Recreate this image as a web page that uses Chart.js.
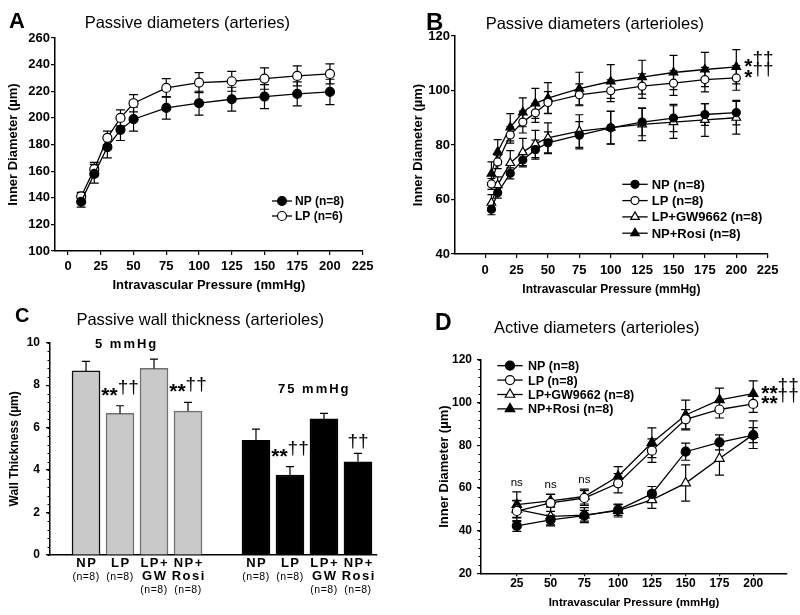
<!DOCTYPE html>
<html>
<head>
<meta charset="utf-8">
<script src="https://cdn.jsdelivr.net/npm/chart.js@4.4.1/dist/chart.umd.min.js"></script>
<style>
  body { margin: 0; width: 800px; height: 615px; position: relative; overflow: hidden; background: #fff; }
  canvas { position: absolute; }
  .txt { position: absolute; white-space: nowrap; line-height: 1; color: #000; font-family: "Liberation Sans", Arial, sans-serif; }
</style>
</head>
<body>
<canvas id="chartA" width="400" height="300" style="left:0;top:0"></canvas>
<canvas id="chartB" width="400" height="300" style="left:400px;top:0"></canvas>
<canvas id="chartC" width="400" height="315" style="left:0;top:300px"></canvas>
<canvas id="chartD" width="400" height="315" style="left:400px;top:300px"></canvas>

<div class="txt" style="left:9px;top:10.4px;font-size:22px;font-weight:bold">A</div>
<div class="txt" style="left:84.7px;top:14.3px;font-size:16.5px">Passive diameters (arteries)</div>
<div class="txt" style="left:426px;top:9.7px;font-size:24px;font-weight:bold">B</div>
<div class="txt" style="left:485.7px;top:15.3px;font-size:16.5px">Passive diameters (arterioles)</div>
<div class="txt" style="left:15px;top:304.8px;font-size:20px;font-weight:bold">C</div>
<div class="txt" style="left:76.4px;top:311px;font-size:16.5px">Passive wall thickness (arterioles)</div>
<div class="txt" style="left:95px;top:337.3px;font-size:13px;font-weight:bold;letter-spacing:2px">5 mmHg</div>
<div class="txt" style="left:278px;top:382.3px;font-size:13px;font-weight:bold;letter-spacing:2px">75 mmHg</div>
<div class="txt" style="left:435px;top:310.5px;font-size:23px;font-weight:bold">D</div>
<div class="txt" style="left:494px;top:319px;font-size:16.5px">Active diameters (arterioles)</div>

<script>
// A: passive diameters, arteries
const aPressure = [10, 20, 30, 40, 50, 75, 100, 125, 150, 175, 200];
const aNP = [137, 158, 178, 191, 199, 207.5, 211, 214, 216, 218, 219.5];
const aNPErr = [4, 7, 8, 8, 9, 8.5, 9, 9, 9, 9, 9.5];
const aLP = [141, 161.5, 185, 200, 211, 222.5, 226.5, 227.5, 229.5, 231.5, 233];
const aLPErr = [3, 5, 5, 6, 6.5, 7, 7.5, 7.5, 8, 7.5, 7.5];
const aXTicks = [0, 25, 50, 75, 100, 125, 150, 175, 200, 225];
const aYTicks = [100, 120, 140, 160, 180, 200, 220, 240, 260];

// B: passive diameters, arterioles
const bPressure = [5, 10, 20, 30, 40, 50, 75, 100, 125, 150, 175, 200];
const bNP = [56.4, 62.5, 69.6, 74.5, 78.3, 80.8, 83.6, 86.3, 88.4, 89.9, 91.2, 91.9];
const bNPErr = [2, 2, 2, 2.5, 3.5, 4, 5, 6, 5, 5, 4, 4.5];
const bLP = [65.7, 73.8, 83.7, 88.4, 91.8, 95.6, 98.4, 99.9, 101.6, 102.7, 104, 104.6];
const bLPErr = [2, 2.5, 3, 4, 3.5, 4, 4, 4, 4.5, 4.5, 4.5, 4.5];
const bGW = [58.8, 65.3, 73.4, 77.4, 80.4, 82.6, 85.1, 86.4, 87.6, 88.4, 89.2, 90];
const bGWErr = [3, 3, 4.5, 5, 5, 5.5, 6, 6, 6, 6, 6, 6];
const bRosi = [69.5, 77.5, 86.5, 92, 95.3, 97.2, 100.7, 103.3, 104.9, 106.6, 107.7, 108.7];
const bRosiErr = [4.3, 4.5, 5, 5.3, 5.5, 5.7, 6, 6.2, 6.2, 6.3, 6.3, 6.3];
const bXTicks = [0, 25, 50, 75, 100, 125, 150, 175, 200, 225];
const bYTicks = [40, 60, 80, 100, 120];

// C: passive wall thickness, arterioles
const cGroups = ['NP', 'LP', 'LP+\nGW', 'NP+\nRosi'];
const cCounts = ['(n=8)', '(n=8)', '(n=8)', '(n=8)'];
const c5mmHg = [8.67, 6.67, 8.79, 6.78];
const c5mmHgErr = [0.45, 0.36, 0.44, 0.41];
const c5mmHgSig = ['', '**††', '', '**††'];
const c75mmHg = [5.40, 3.77, 6.41, 4.39];
const c75mmHgErr = [0.53, 0.39, 0.26, 0.40];
const c75mmHgSig = ['', '**††', '', '††'];
const cYTicks = [0, 2, 4, 6, 8, 10];

// D: active diameters, arterioles
const dPressure = [25, 50, 75, 100, 125, 150, 175, 200];
const dNP = [42.2, 45, 47, 49.7, 57.2, 77, 81.4, 84.8];
const dNPErr = [2.5, 2.3, 2.5, 2.5, 3.5, 4, 3.5, 3.5];
const dLP = [49.2, 53, 55.3, 62.2, 77.5, 92.2, 96.8, 99.4];
const dLPErr = [5, 4, 3.5, 4.5, 5.5, 4.5, 4, 4];
const dGW = [50, 46.7, 47.3, 49.4, 54.4, 62.3, 73.8, 85];
const dGWErr = [4, 4.5, 3.5, 3, 4, 8.5, 7.8, 6.5];
const dRosi = [52.2, 54, 56, 65.5, 81.2, 94.2, 101.3, 104.2];
const dRosiErr = [6, 3, 3.5, 4.5, 7, 7, 5.5, 6];
const dNs = ['ns', 'ns', 'ns', '', '', '', '', ''];
const dXTicks = [25, 50, 75, 100, 125, 150, 175, 200];
const dYTicks = [20, 40, 60, 80, 100, 120];

const FONT = '"Liberation Sans", Arial, sans-serif';
Chart.defaults.font.family = FONT;
Chart.defaults.color = '#000';
Chart.defaults.animation = false;
Chart.defaults.plugins.legend.display = false;
Chart.defaults.plugins.tooltip.enabled = false;

const markers = {
  NP: { shape: 'circle', fill: '#000' },
  LP: { shape: 'circle', fill: '#fff' },
  GW: { shape: 'triangle', fill: '#fff' },
  Rosi: { shape: 'triangle', fill: '#000' }
};

function lineSet(label, xs, ys, errs, mk, radius, sig) {
  return {
    label,
    data: xs.map((x, i) => ({ x, y: ys[i] })),
    errors: errs,
    sig,
    borderColor: '#000',
    borderWidth: 1.3,
    pointStyle: mk.shape,
    pointRadius: mk.shape === 'triangle' ? radius + 1 : radius,
    pointBackgroundColor: mk.fill,
    pointBorderColor: '#000',
    pointBorderWidth: 1.2,
    tension: 0,
    fill: false
  };
}

function axis(o) {
  return {
    type: 'linear',
    min: o.min,
    max: o.max,
    offset: false,
    afterBuildTicks: s => { s.ticks = (o.ticks || []).map(v => ({ value: v })); },
    afterFit: s => {
      if (o.width) s.width = o.width;
      if (o.height) s.height = o.height;
    },
    grid: { display: o.grid !== false, drawOnChartArea: false, color: '#000', lineWidth: 1.2, tickLength: o.tickLen || 4 },
    border: { display: true, color: '#000', width: 1.5 },
    ticks: { display: o.tickSize > 0, font: { size: o.tickSize, weight: 'bold' }, padding: o.tickPad, color: '#000' },
    title: {
      display: !!o.title, text: o.title, color: '#000',
      font: { size: o.titleSize, weight: 'bold' },
      padding: o.titlePad
    }
  };
}

function drawMarker(ctx, shape, x, y, r, fill) {
  ctx.beginPath();
  if (shape === 'triangle') {
    let a = 0;
    ctx.moveTo(x + Math.sin(a) * r, y - Math.cos(a) * r);
    a += Math.PI * 2 / 3;
    ctx.lineTo(x + Math.sin(a) * r, y - Math.cos(a) * r);
    a += Math.PI * 2 / 3;
    ctx.lineTo(x + Math.sin(a) * r, y - Math.cos(a) * r);
    ctx.closePath();
  } else {
    ctx.arc(x, y, r, 0, Math.PI * 2);
  }
  ctx.fillStyle = fill;
  ctx.fill();
  ctx.stroke();
}

// stars in bold, daggers raised after them
function drawSig(ctx, text, x, base, centered) {
  const stars = text.replace(/†/g, '');
  const daggers = text.replace(/\*/g, '');
  const starFont = 'bold 21px ' + FONT;
  const dagFont = '19px ' + FONT;
  ctx.font = starFont;
  const ws = ctx.measureText(stars).width;
  ctx.font = dagFont;
  const wd = ctx.measureText(daggers).width;
  const start = centered ? x - (ws + wd) / 2 : x;
  ctx.fillStyle = '#000';
  ctx.textAlign = 'left';
  ctx.textBaseline = 'alphabetic';
  ctx.font = starFont;
  ctx.fillText(stars, start, base);
  ctx.font = dagFont;
  ctx.fillText(daggers, start + ws, base - (stars ? 8.5 : 2));
}

const errorBars = {
  id: 'errorBars',
  beforeDatasetsDraw(chart, args, o) { if (!o.upOnly) paintErrors(chart, o); },
  afterDatasetsDraw(chart, args, o) { if (o.upOnly) paintErrors(chart, o); }
};

function paintErrors(chart, o) {
  const ctx = chart.ctx;
  const ys = chart.scales.y;
  ctx.save();
  ctx.strokeStyle = '#000';
  ctx.lineWidth = 1.2;
  chart.data.datasets.forEach((ds, di) => {
    if (!ds.errors) return;
    chart.getDatasetMeta(di).data.forEach((el, i) => {
      const v = ds.data[i].y, e = ds.errors[i];
      const top = ys.getPixelForValue(v + e);
      const bot = ys.getPixelForValue(o.upOnly ? v : v - e);
      ctx.beginPath();
      ctx.moveTo(el.x, top); ctx.lineTo(el.x, bot);
      ctx.moveTo(el.x - o.cap, top); ctx.lineTo(el.x + o.cap, top);
      if (!o.upOnly) { ctx.moveTo(el.x - o.cap, bot); ctx.lineTo(el.x + o.cap, bot); }
      ctx.stroke();
    });
  });
  ctx.restore();
}

const markerLegend = {
  id: 'markerLegend',
  afterDraw(chart, args, o) {
    if (!o.rowH) return;
    const ctx = chart.ctx;
    chart.data.datasets.forEach((ds, i) => {
      const y = o.y + i * o.rowH;
      ctx.save();
      ctx.strokeStyle = '#000';
      ctx.lineWidth = 1.3;
      ctx.beginPath(); ctx.moveTo(o.x - o.half, y); ctx.lineTo(o.x + o.half, y); ctx.stroke();
      ctx.lineWidth = 1.2;
      drawMarker(ctx, ds.pointStyle, o.x, y, ds.pointRadius, ds.pointBackgroundColor);
      ctx.fillStyle = '#000';
      ctx.font = 'bold ' + o.size + 'px ' + FONT;
      ctx.textBaseline = 'middle';
      ctx.textAlign = 'left';
      ctx.fillText(ds.label, o.x + o.gap, y + 1);
      ctx.restore();
    });
  }
};

const sigMarks = {
  id: 'sigMarks',
  afterDatasetsDraw(chart) {
    const ctx = chart.ctx;
    const ys = chart.scales.y;
    ctx.save();
    chart.data.datasets.forEach((ds, di) => {
      const pts = chart.getDatasetMeta(di).data;
      if (ds.sig) {
        const last = pts[pts.length - 1];
        drawSig(ctx, ds.sig, last.x + 8, last.y + 6, false);
      }
      if (ds.sigs) {
        pts.forEach((el, i) => {
          if (!ds.sigs[i]) return;
          const top = ys.getPixelForValue(ds.data[i].y + ds.errors[i]);
          drawSig(ctx, ds.sigs[i], el.x, top - 4, true);
        });
      }
    });
    ctx.restore();
  }
};

const minorTicks = {
  id: 'minorTicks',
  afterDraw(chart, args, o) {
    if (!o.step) return;
    const ys = chart.scales.y, ctx = chart.ctx;
    ctx.save();
    ctx.strokeStyle = '#000';
    ctx.lineWidth = 1;
    for (let v = ys.min; v <= ys.max + 1e-9; v += o.step) {
      const y = Math.round(ys.getPixelForValue(v)) + 0.5;
      ctx.beginPath(); ctx.moveTo(ys.right - 2.5, y); ctx.lineTo(ys.right, y); ctx.stroke();
    }
    ctx.restore();
  }
};

Chart.register(errorBars, markerLegend, sigMarks, minorTicks);

// ---------- A ----------
new Chart(document.getElementById('chartA'), {
  type: 'line',
  data: {
    datasets: [
      lineSet('NP (n=8)', aPressure, aNP, aNPErr, markers.NP, 4.5),
      lineSet('LP (n=6)', aPressure, aLP, aLPErr, markers.LP, 4.5)
    ]
  },
  options: {
    responsive: false,
    layout: { padding: { top: 38, right: 37.3, left: 0, bottom: 0 } },
    scales: {
      x: axis({ min: -10, max: 225, ticks: aXTicks, height: 49, tickSize: 13, tickPad: 4,
        title: 'Intravascular Pressure (mmHg)', titleSize: 13, titlePad: { top: 0, bottom: 7 } }),
      y: axis({ min: 100, max: 260, ticks: aYTicks, width: 55, tickSize: 13, tickPad: 1,
        title: 'Inner Diameter (µm)', titleSize: 13, titlePad: { top: 6, bottom: 0 } })
    },
    plugins: {
      errorBars: { cap: 4.5 },
      markerLegend: { x: 282, y: 201, rowH: 15, half: 10, gap: 13, size: 12 }
    }
  }
});

// ---------- B ----------
new Chart(document.getElementById('chartB'), {
  type: 'line',
  data: {
    datasets: [
      lineSet('NP (n=8)', bPressure, bNP, bNPErr, markers.NP, 4),
      lineSet('LP (n=8)', bPressure, bLP, bLPErr, markers.LP, 4, '*††'),
      lineSet('LP+GW9662 (n=8)', bPressure, bGW, bGWErr, markers.GW, 4),
      lineSet('NP+Rosi (n=8)', bPressure, bRosi, bRosiErr, markers.Rosi, 4, '*††')
    ]
  },
  options: {
    responsive: false,
    layout: { padding: { top: 36, right: 32.3, left: 0, bottom: 0 } },
    scales: {
      x: axis({ min: -24, max: 225, ticks: bXTicks, height: 46, tickSize: 13, tickPad: 5,
        title: 'Intravascular Pressure (mmHg)', titleSize: 12, titlePad: { top: 0, bottom: 3 } }),
      y: axis({ min: 40, max: 120, ticks: bYTicks, width: 55, tickSize: 13, tickPad: 1,
        title: 'Inner Diameter (µm)', titleSize: 13, titlePad: { top: 11, bottom: 0 } })
    },
    plugins: {
      errorBars: { cap: 4 },
      markerLegend: { x: 235, y: 184.3, rowH: 16.3, half: 12.7, gap: 16.7, size: 13 }
    }
  }
});

// ---------- C ----------
const cX = [...c5mmHg.map((_, i) => i), ...c75mmHg.map((_, i) => i + cGroups.length + 1)];
const cValues = c5mmHg.concat(c75mmHg);
const cLabels = cGroups.concat(cGroups);
const cNs = cCounts.concat(cCounts);

const cLabelPlugin = {
  id: 'cLabels',
  afterDraw(chart) {
    const ctx = chart.ctx, xs = chart.scales.x;
    const base = chart.chartArea.bottom + 11.7;
    ctx.save();
    ctx.fillStyle = '#000';
    ctx.textAlign = 'center';
    ctx.textBaseline = 'alphabetic';
    cX.forEach((xv, i) => {
      const x = xs.getPixelForValue(xv);
      const lines = cLabels[i].split('\n');
      ctx.font = 'bold 13px ' + FONT;
      ctx.letterSpacing = '1.5px';
      lines.forEach((t, k) => ctx.fillText(t, x + 0.75, base + k * 13.3));
      ctx.font = '10.5px ' + FONT;
      ctx.letterSpacing = '0.5px';
      ctx.fillText(cNs[i], x, base + lines.length * 13.3);
    });
    ctx.restore();
  }
};

new Chart(document.getElementById('chartC'), {
  type: 'bar',
  data: {
    datasets: [{
      label: 'Wall thickness',
      data: cX.map((x, i) => ({ x, y: cValues[i] })),
      errors: c5mmHgErr.concat(c75mmHgErr),
      sigs: c5mmHgSig.concat(c75mmHgSig),
      backgroundColor: cX.map((_, i) => i < c5mmHg.length ? '#c9c9c9' : '#000'),
      borderColor: cX.map((_, i) => i === 0 ? '#111' : (i < c5mmHg.length ? '#707070' : '#000')),
      borderWidth: 1.5,
      barThickness: 28
    }]
  },
  options: {
    responsive: false,
    layout: { padding: { top: 42.7, right: 23, left: 0, bottom: 0 } },
    scales: {
      x: axis({ min: -1.06, max: 8.56, ticks: [], height: 60, tickSize: 0, grid: false }),
      y: axis({ min: 0, max: 10, ticks: cYTicks, width: 50, tickSize: 12, tickPad: 6,
        title: 'Wall Thickness (µm)', titleSize: 12, titlePad: { top: 7, bottom: 0 } })
    },
    plugins: {
      errorBars: { cap: 4, upOnly: true },
      minorTicks: { step: 0.4 }
    }
  },
  plugins: [cLabelPlugin]
});

// ---------- D ----------
const nsPlugin = {
  id: 'nsLabels',
  afterDatasetsDraw(chart) {
    const ctx = chart.ctx, xs = chart.scales.x, ys = chart.scales.y;
    ctx.save();
    ctx.fillStyle = '#000';
    ctx.font = '11.5px ' + FONT;
    ctx.textAlign = 'center';
    dNs.forEach((t, i) => {
      if (!t) return;
      const topVal = Math.max(...chart.data.datasets.map(ds => ds.data[i].y + ds.errors[i]));
      ctx.fillText(t, xs.getPixelForValue(dPressure[i]), ys.getPixelForValue(topVal) - 6);
    });
    ctx.restore();
  }
};

new Chart(document.getElementById('chartD'), {
  type: 'line',
  data: {
    datasets: [
      lineSet('NP (n=8)', dPressure, dNP, dNPErr, markers.NP, 4.5),
      lineSet('LP (n=8)', dPressure, dLP, dLPErr, markers.LP, 4.5, '**††'),
      lineSet('LP+GW9662 (n=8)', dPressure, dGW, dGWErr, markers.GW, 4.5),
      lineSet('NP+Rosi (n=8)', dPressure, dRosi, dRosiErr, markers.Rosi, 4.5, '**††')
    ]
  },
  options: {
    responsive: false,
    layout: { padding: { top: 60, right: 13, left: 0, bottom: 0 } },
    scales: {
      x: axis({ min: -1.5, max: 225, ticks: dXTicks, height: 41.7, tickSize: 12, tickPad: 0, tickLen: 3,
        title: 'Intravascular Pressure (mmHg)', titleSize: 11.5, titlePad: { top: 0, bottom: 5 } }),
      y: axis({ min: 20, max: 120, ticks: dYTicks, width: 81, tickSize: 12, tickPad: 5,
        title: 'Inner Diameter (µm)', titleSize: 13, titlePad: { top: 37, bottom: 0 } })
    },
    plugins: {
      errorBars: { cap: 4.5 },
      markerLegend: { x: 110, y: 65.7, rowH: 14.4, half: 12.7, gap: 18, size: 12.5 },
      minorTicks: { step: 4 }
    }
  },
  plugins: [nsPlugin]
});
</script>
</body>
</html>
